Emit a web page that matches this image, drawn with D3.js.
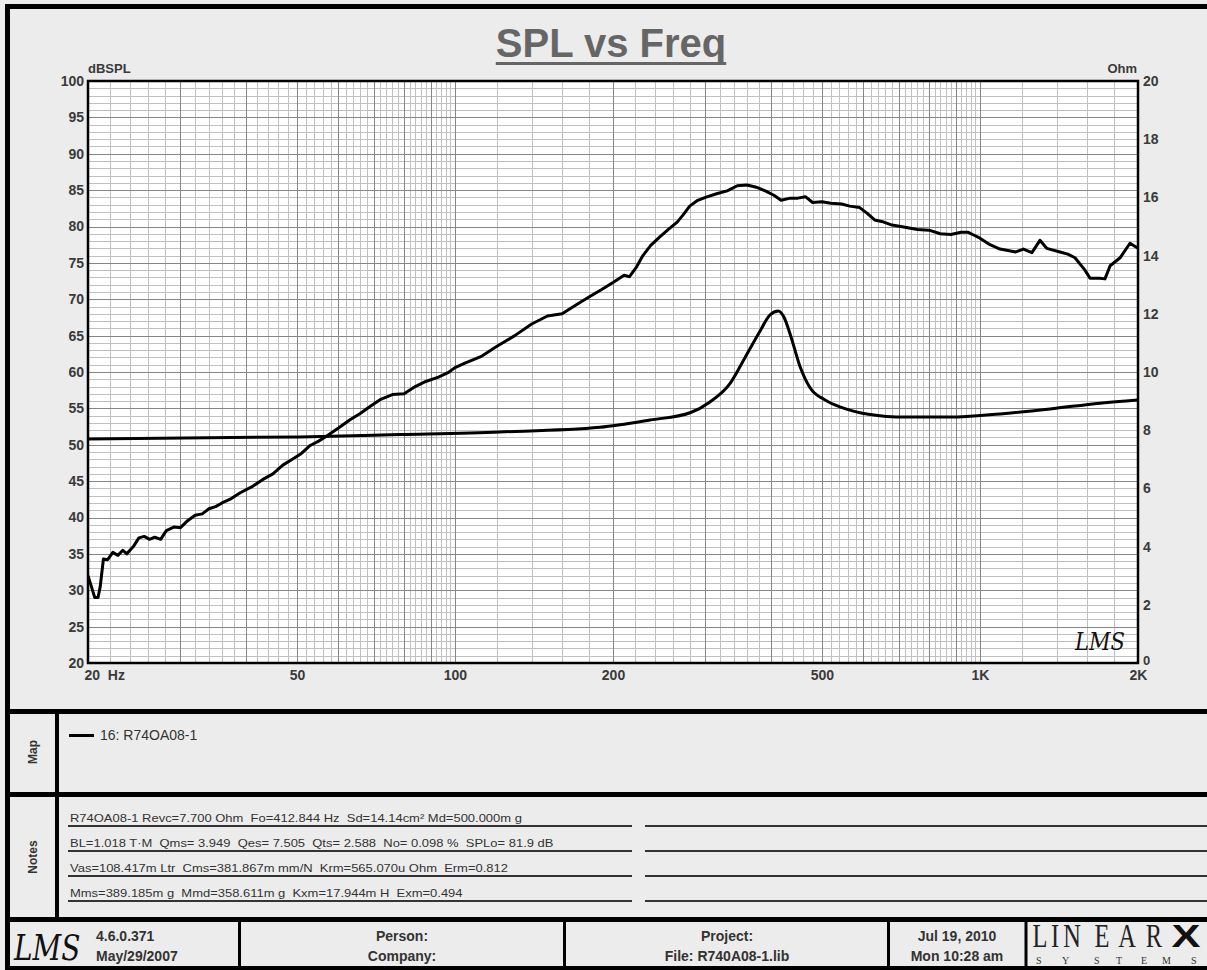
<!DOCTYPE html>
<html>
<head>
<meta charset="utf-8">
<script src="https://cdn.jsdelivr.net/npm/d3@7"></script>
<style>
  body { margin: 0; background: #fff; }
  svg { display: block; font-family: "Liberation Sans", Arial, sans-serif; }
  text { white-space: pre; }
</style>
</head>
<body>
<script>
// SPL curve (Hz, dBSPL)
const splFreq = [20, 20.3, 20.6, 20.9, 21.1, 21.4, 21.8, 22.3, 22.8, 23.3, 23.7, 24.4, 25.0, 25.6, 26.2, 26.8, 27.5, 28.2, 29.2, 30, 31, 32, 33, 34, 35, 36, 37.5, 39, 41, 43, 45, 47, 49, 51, 53, 55, 57, 60, 63, 66, 69, 72, 76, 80, 84, 88, 93, 97, 100, 105, 112, 120, 130, 140, 150, 160, 170, 180, 190, 200, 210, 215, 222, 228, 236, 245, 255, 265, 272, 280, 290, 300, 315, 330, 345, 360, 375, 390, 405, 418, 435, 450, 465, 480, 500, 520, 545, 565, 590, 610, 630, 650, 680, 720, 760, 800, 840, 880, 920, 950, 975, 1000, 1045, 1092, 1170, 1210, 1256, 1301, 1340, 1421, 1470, 1517, 1585, 1620, 1692, 1730, 1770, 1849, 1931, 2000];
const splDb = [32.0, 30.5, 29.0, 29.0, 30.5, 34.3, 34.2, 35.2, 34.8, 35.5, 35.0, 36.0, 37.2, 37.4, 37.0, 37.3, 37.0, 38.2, 38.7, 38.6, 39.6, 40.3, 40.5, 41.2, 41.5, 42.0, 42.6, 43.4, 44.2, 45.2, 46.0, 47.2, 48.0, 48.8, 49.9, 50.5, 51.2, 52.3, 53.4, 54.3, 55.3, 56.2, 56.9, 57.0, 58.0, 58.7, 59.3, 59.9, 60.6, 61.3, 62.1, 63.5, 65.0, 66.6, 67.7, 68.0, 69.2, 70.3, 71.3, 72.3, 73.3, 73.1, 74.5, 76.0, 77.4, 78.5, 79.6, 80.6, 81.6, 82.8, 83.6, 84.0, 84.5, 84.9, 85.6, 85.7, 85.4, 84.9, 84.3, 83.6, 83.9, 83.9, 84.1, 83.3, 83.4, 83.2, 83.1, 82.8, 82.6, 81.8, 80.9, 80.7, 80.2, 79.9, 79.6, 79.5, 79.0, 78.9, 79.2, 79.2, 78.8, 78.4, 77.5, 76.9, 76.5, 76.9, 76.4, 78.1, 77.0, 76.5, 76.2, 75.7, 74.0, 72.9, 72.9, 72.8, 74.6, 75.7, 77.7, 77.0];

// impedance curve (Hz, Ohm)
const impFreq = [20, 50.7, 78.6, 121.9, 188.9, 235.3, 280.5, 306, 334, 357, 381, 398, 413, 423, 435, 454, 475, 507, 541, 591, 645, 704.5, 877, 1092, 1360, 1692, 2000];
const impOhm = [7.7, 7.77, 7.85, 7.94, 8.1, 8.35, 8.6, 8.97, 9.6, 10.5, 11.4, 11.96, 12.1, 11.9, 11.3, 10.2, 9.45, 9.04, 8.8, 8.6, 8.5, 8.45, 8.45, 8.56, 8.73, 8.93, 9.04];

const xTickValues = [20, 50, 100, 200, 500, 1000, 2000];
const xTickLabels = ["20  Hz", "50", "100", "200", "500", "1K", "2K"];
const leftTicks = d3.range(20, 101, 5);
const rightTicks = d3.range(0, 21, 2);

const legendLabels = ["16: R74OA08-1"];
const noteLines = [
  "R74OA08-1 Revc=7.700 Ohm  Fo=412.844 Hz  Sd=14.14cm\u00b2 Md=500.000m g",
  "BL=1.018 T\u00b7M  Qms= 3.949  Qes= 7.505  Qts= 2.588  No= 0.098 %  SPLo= 81.9 dB",
  "Vas=108.417m Ltr  Cms=381.867m mm/N  Krm=565.070u Ohm  Erm=0.812",
  "Mms=389.185m g  Mmd=358.611m g  Kxm=17.944m H  Exm=0.494"
];
const footerCells = [
  ["Person:", "Company:"],
  ["Project:", "File: R740A08-1.lib"],
  ["Jul 19, 2010", "Mon 10:28 am"]
];
const versionLines = ["4.6.0.371", "May/29/2007"];
const logoLetters = ["L", "I", "N", "E", "A", "R"];
const logoCenters = [1040, 1055, 1072, 1102, 1127, 1154];
const systemsLetters = ["S", "Y", "S", "T", "E", "M", "S"];
const systemsX = [1036, 1062, 1094, 1116, 1141, 1162, 1191];

const W = 1207, H = 970;
const plot = { left: 88, right: 1138, top: 81, bottom: 663 };
const textCol = "#3a3a3a";

const svg = d3.select("body").append("svg")
  .attr("width", W)
  .attr("height", H);

svg.append("rect").attr("width", W).attr("height", H).attr("fill", "#ececec");

let x = d3.scaleLog().domain([20, 2000]).range([plot.left, plot.right]);
let y = d3.scaleLinear().domain([20, 100]).range([plot.bottom, plot.top]);
let yR = d3.scaleLinear().domain([0, 20]).range([plot.bottom, plot.top]);

// title
let title = svg.append("text")
  .attr("x", 611)
  .attr("y", 57)
  .attr("text-anchor", "middle")
  .attr("font-size", 40)
  .attr("font-weight", "bold")
  .attr("fill", "#666")
  .text("SPL vs Freq");
let tb = title.node().getBBox();
svg.append("line")
  .attr("x1", tb.x).attr("x2", tb.x + tb.width)
  .attr("y1", 63.5).attr("y2", 63.5)
  .attr("stroke", "#666").attr("stroke-width", 3);

// plot background
svg.append("rect")
  .attr("x", plot.left).attr("y", plot.top)
  .attr("width", plot.right - plot.left)
  .attr("height", plot.bottom - plot.top)
  .attr("fill", "#fff");

// grid lines
let minorF = d3.range(22, 100, 2).filter(f => f % 10 !== 0)
  .concat(d3.range(120, 1000, 20).filter(f => f % 100 !== 0))
  .concat(d3.range(1200, 2000, 200));
let majorF = d3.range(30, 100, 10).concat(d3.range(100, 1001, 100));
let minorDb = d3.range(21, 100, 1).filter(v => v % 5 !== 0);
let majorDb = d3.range(25, 100, 5);

let grid = svg.append("g").attr("class", "grid");
grid.selectAll(".vminor").data(minorF).enter().append("line")
  .attr("x1", d => Math.round(x(d)) + 0.5).attr("x2", d => Math.round(x(d)) + 0.5)
  .attr("y1", plot.top).attr("y2", plot.bottom)
  .attr("stroke", "#c0c0c0");
grid.selectAll(".hminor").data(minorDb).enter().append("line")
  .attr("y1", d => Math.round(y(d)) + 0.5).attr("y2", d => Math.round(y(d)) + 0.5)
  .attr("x1", plot.left).attr("x2", plot.right)
  .attr("stroke", "#c0c0c0");
grid.selectAll(".vmajor").data(majorF).enter().append("line")
  .attr("x1", d => Math.round(x(d)) + 0.5).attr("x2", d => Math.round(x(d)) + 0.5)
  .attr("y1", plot.top).attr("y2", plot.bottom)
  .attr("stroke", "#868686");
grid.selectAll(".hmajor").data(majorDb).enter().append("line")
  .attr("y1", d => Math.round(y(d)) + 0.5).attr("y2", d => Math.round(y(d)) + 0.5)
  .attr("x1", plot.left).attr("x2", plot.right)
  .attr("stroke", "#868686");

// curves
svg.append("clipPath").attr("id", "clip").append("rect")
  .attr("x", plot.left).attr("y", plot.top)
  .attr("width", plot.right - plot.left).attr("height", plot.bottom - plot.top);

let splLine = d3.line().x(d => x(d[0])).y(d => y(d[1]));
let impLine = d3.line().x(d => x(d[0])).y(d => yR(d[1])).curve(d3.curveMonotoneX);

svg.append("path")
  .datum(splFreq.map((f, i) => [f, splDb[i]]))
  .attr("d", splLine)
  .attr("clip-path", "url(#clip)")
  .attr("fill", "none").attr("stroke", "#000")
  .attr("stroke-width", 3).attr("stroke-linejoin", "round");

svg.append("path")
  .datum(impFreq.map((f, i) => [f, impOhm[i]]))
  .attr("d", impLine)
  .attr("clip-path", "url(#clip)")
  .attr("fill", "none").attr("stroke", "#000")
  .attr("stroke-width", 3).attr("stroke-linejoin", "round");

// plot frame
svg.append("rect")
  .attr("x", plot.left).attr("y", plot.top)
  .attr("width", plot.right - plot.left)
  .attr("height", plot.bottom - plot.top)
  .attr("fill", "none").attr("stroke", "#000").attr("stroke-width", 2.5);

// axes
function styleAxis(g) {
  g.select(".domain").remove();
  g.selectAll("line").remove();
  g.selectAll("text")
    .attr("font-family", "Liberation Sans, Arial, sans-serif")
    .attr("font-size", 14)
    .attr("font-weight", "bold")
    .attr("fill", textCol);
}

svg.append("g")
  .attr("transform", "translate(0," + plot.bottom + ")")
  .call(d3.axisBottom(x).tickValues(xTickValues)
    .tickFormat((d, i) => xTickLabels[i]).tickSize(0).tickPadding(7))
  .call(styleAxis)
  .call(g => g.selectAll("text").filter((d, i) => i === 0)
    .attr("text-anchor", "start").attr("dx", -4));

svg.append("g")
  .attr("transform", "translate(" + plot.left + ",0)")
  .call(d3.axisLeft(y).tickValues(leftTicks).tickSize(0).tickPadding(4))
  .call(styleAxis);

svg.append("g")
  .attr("transform", "translate(" + plot.right + ",0)")
  .call(d3.axisRight(yR).tickValues(rightTicks).tickSize(0).tickPadding(5))
  .call(styleAxis)
  .call(g => g.selectAll("text").filter(d => d === 0)
    .attr("font-size", 13).attr("y", -3));

svg.append("text")
  .attr("x", plot.left).attr("y", 73)
  .attr("font-size", 13).attr("font-weight", "bold").attr("fill", textCol)
  .text("dBSPL");
svg.append("text")
  .attr("x", plot.right - 1).attr("y", 73)
  .attr("text-anchor", "end")
  .attr("font-size", 13).attr("font-weight", "bold").attr("fill", textCol)
  .text("Ohm");

// LMS mark in the plot
svg.append("text")
  .attr("x", 1075).attr("y", 650)
  .attr("font-family", "DejaVu Serif, serif")
  .attr("font-style", "italic")
  .attr("font-size", 24)
  .attr("textLength", 50).attr("lengthAdjust", "spacingAndGlyphs")
  .attr("fill", "#111")
  .text("LMS");

// map panel
svg.append("line")
  .attr("x1", 69).attr("x2", 94).attr("y1", 735.5).attr("y2", 735.5)
  .attr("stroke", "#000").attr("stroke-width", 3);
svg.selectAll(".legend").data(legendLabels).enter().append("text")
  .attr("x", 100).attr("y", 740)
  .attr("font-size", 14).attr("fill", "#333")
  .text(d => d);

// notes panel
let noteY = d3.scaleLinear().domain([0, 3]).range([826, 901]);
svg.selectAll(".note").data(noteLines).enter().append("text")
  .attr("transform", (d, i) => "translate(70," + (noteY(i) - 4) + ") scale(1.1,1)")
  .attr("font-size", 11.8).attr("fill", "#333")
  .text(d => d);
svg.selectAll(".noteline1").data(noteLines).enter().append("line")
  .attr("x1", 68).attr("x2", 632)
  .attr("y1", (d, i) => noteY(i)).attr("y2", (d, i) => noteY(i))
  .attr("stroke", "#333").attr("stroke-width", 2);
svg.selectAll(".noteline2").data(noteLines).enter().append("line")
  .attr("x1", 645).attr("x2", 1215)
  .attr("y1", (d, i) => noteY(i)).attr("y2", (d, i) => noteY(i))
  .attr("stroke", "#333").attr("stroke-width", 2);

// panel labels
[["Map", 752], ["Notes", 857]].forEach(p => {
  svg.append("text")
    .attr("transform", "translate(37," + p[1] + ") rotate(-90)")
    .attr("text-anchor", "middle")
    .attr("font-size", 12).attr("font-weight", "bold").attr("fill", "#333")
    .text(p[0]);
});

// footer
svg.append("text")
  .attr("transform", "translate(14,960) scale(1,1.25)")
  .attr("font-family", "DejaVu Serif, serif")
  .attr("font-style", "italic")
  .attr("font-size", 28)
  .attr("fill", "#111")
  .text("LMS");
svg.selectAll(".ver").data(versionLines).enter().append("text")
  .attr("x", 96).attr("y", (d, i) => 941 + i * 20)
  .attr("font-size", 14).attr("font-weight", "bold").attr("fill", "#333")
  .text(d => d);

let cellCenters = [402, 727, 957];
footerCells.forEach((cell, ci) => {
  cell.forEach((t, li) => {
    svg.append("text")
      .attr("x", cellCenters[ci]).attr("y", 941 + li * 20)
      .attr("text-anchor", "middle")
      .attr("font-size", 14).attr("font-weight", "bold").attr("fill", "#333")
      .text(t);
  });
});

// LINEAR X logo
svg.selectAll(".logo").data(logoLetters).enter().append("text")
  .attr("transform", (d, i) => "translate(" + logoCenters[i] + ",947) scale(0.72,1)")
  .attr("text-anchor", "middle")
  .attr("font-family", "Liberation Serif, serif")
  .attr("font-size", 34)
  .attr("fill", "#222")
  .text(d => d);
svg.append("text")
  .attr("transform", "translate(1186,947) scale(1.4,1)")
  .attr("text-anchor", "middle")
  .attr("font-family", "Liberation Sans, Arial, sans-serif")
  .attr("font-size", 31).attr("font-weight", "bold")
  .attr("fill", "#111")
  .text("X");
svg.selectAll(".sys").data(systemsLetters).enter().append("text")
  .attr("x", (d, i) => systemsX[i]).attr("y", 964)
  .attr("font-family", "Liberation Serif, serif")
  .attr("font-size", 10)
  .attr("fill", "#333")
  .text(d => d);

// panel frame and separators
let frame = svg.append("g").attr("stroke", "#000").attr("fill", "none");
frame.append("rect")
  .attr("x", 7.5).attr("y", 6.5).attr("width", 1230).attr("height", 962)
  .attr("stroke-width", 5);
[711.5, 794.5, 919.5].forEach(v => {
  frame.append("line").attr("x1", 5).attr("x2", W).attr("y1", v).attr("y2", v)
    .attr("stroke-width", 5);
});
frame.append("line").attr("x1", 57).attr("x2", 57).attr("y1", 714).attr("y2", 918)
  .attr("stroke-width", 4);
[239.5, 564.5, 888.5, 1026].forEach(v => {
  frame.append("line").attr("x1", v).attr("x2", v).attr("y1", 921).attr("y2", 967)
    .attr("stroke-width", 3);
});
</script>
</body>
</html>
